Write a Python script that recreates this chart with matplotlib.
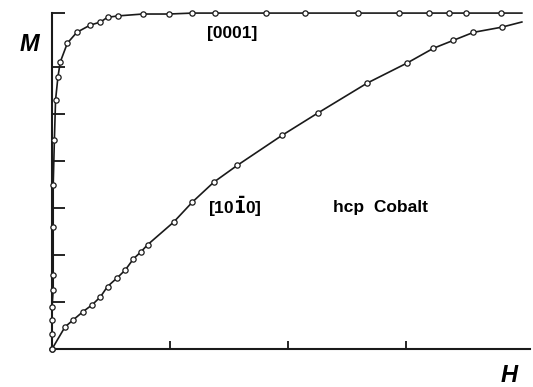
import matplotlib
matplotlib.use("Agg")
import matplotlib.pyplot as plt

# [0001] easy axis curve (H, M)
h_0001 = [0.0, 0.0, 0.0, 0.0, 0.01, 0.01, 0.01, 0.01, 0.02, 0.03, 0.05, 0.07,
          0.13, 0.21, 0.32, 0.41, 0.47, 0.56, 0.77, 0.99, 1.19, 1.38, 1.81,
          2.14, 2.59, 2.94, 3.19, 3.36, 3.51, 3.80, 3.98]
m_0001 = [0.0, 0.32, 0.62, 0.89, 1.26, 1.57, 2.60, 3.49, 4.45, 5.30, 5.79, 6.11,
          6.51, 6.74, 6.89, 6.96, 7.06, 7.09, 7.13, 7.13, 7.15, 7.15, 7.15,
          7.15, 7.15, 7.15, 7.15, 7.15, 7.15, 7.15, 7.15]

# [10-10] hard axis curve (H, M)
h_1010 = [0.0, 0.11, 0.18, 0.26, 0.34, 0.41, 0.47, 0.55, 0.62, 0.69, 0.75,
          0.81, 1.03, 1.19, 1.37, 1.57, 1.95, 2.25, 2.67, 3.01, 3.23, 3.40,
          3.57, 3.81, 3.98]
m_1010 = [0.0, 0.47, 0.62, 0.79, 0.94, 1.11, 1.33, 1.51, 1.68, 1.92, 2.06,
          2.22, 2.70, 3.13, 3.55, 3.91, 4.55, 5.02, 5.66, 6.09, 6.40, 6.57,
          6.74, 6.85, 6.96]

fig = plt.figure(figsize=(5.33, 3.87), dpi=100)
ax = fig.add_axes([0.0976, 0.0982, 0.897, 0.868])

style = dict(color="#1a1a1a", lw=1.2, marker="o", ms=3.8, mfc="white",
             mec="#1a1a1a", mew=0.9, clip_on=False, zorder=3)
ax.plot(h_0001, m_0001, markevery=list(range(len(h_0001) - 1)), **style)
ax.plot(h_1010, m_1010, markevery=list(range(len(h_1010) - 1)), **style)

ax.set_xlim(0, 4.05)
ax.set_ylim(0, 7.15)
ax.spines["top"].set_visible(False)
ax.spines["right"].set_visible(False)
for s in ("left", "bottom"):
    ax.spines[s].set_linewidth(1.5)
    ax.spines[s].set_color("#1a1a1a")

ax.set_xticks([1, 2, 3])
ax.set_yticks([1, 2, 3, 4, 5, 6, 7.15])
ax.tick_params(axis="x", direction="in", length=6, width=1.2, labelbottom=False)
ax.tick_params(axis="y", direction="in", length=9, width=1.2, labelleft=False)

fig.text(0.055, 0.885, "M", fontsize=17, fontweight="bold", style="italic",
         ha="center", va="center", family="Liberation Sans")
fig.text(0.955, 0.03, "H", fontsize=17, fontweight="bold", style="italic",
         ha="center", va="center", family="Liberation Sans")

lbl = dict(fontsize=12.5, fontweight="bold", ha="center", va="center",
           family="Liberation Sans")
ax.text(1.53, 6.72, "[0001]", **lbl)
ax.text(1.55, 3.02, r"[10$\mathbf{\bar{1}}$0]", **lbl)
ax.text(2.78, 3.02, "hcp  Cobalt", **lbl)

fig.savefig("out.png", dpi=100)
